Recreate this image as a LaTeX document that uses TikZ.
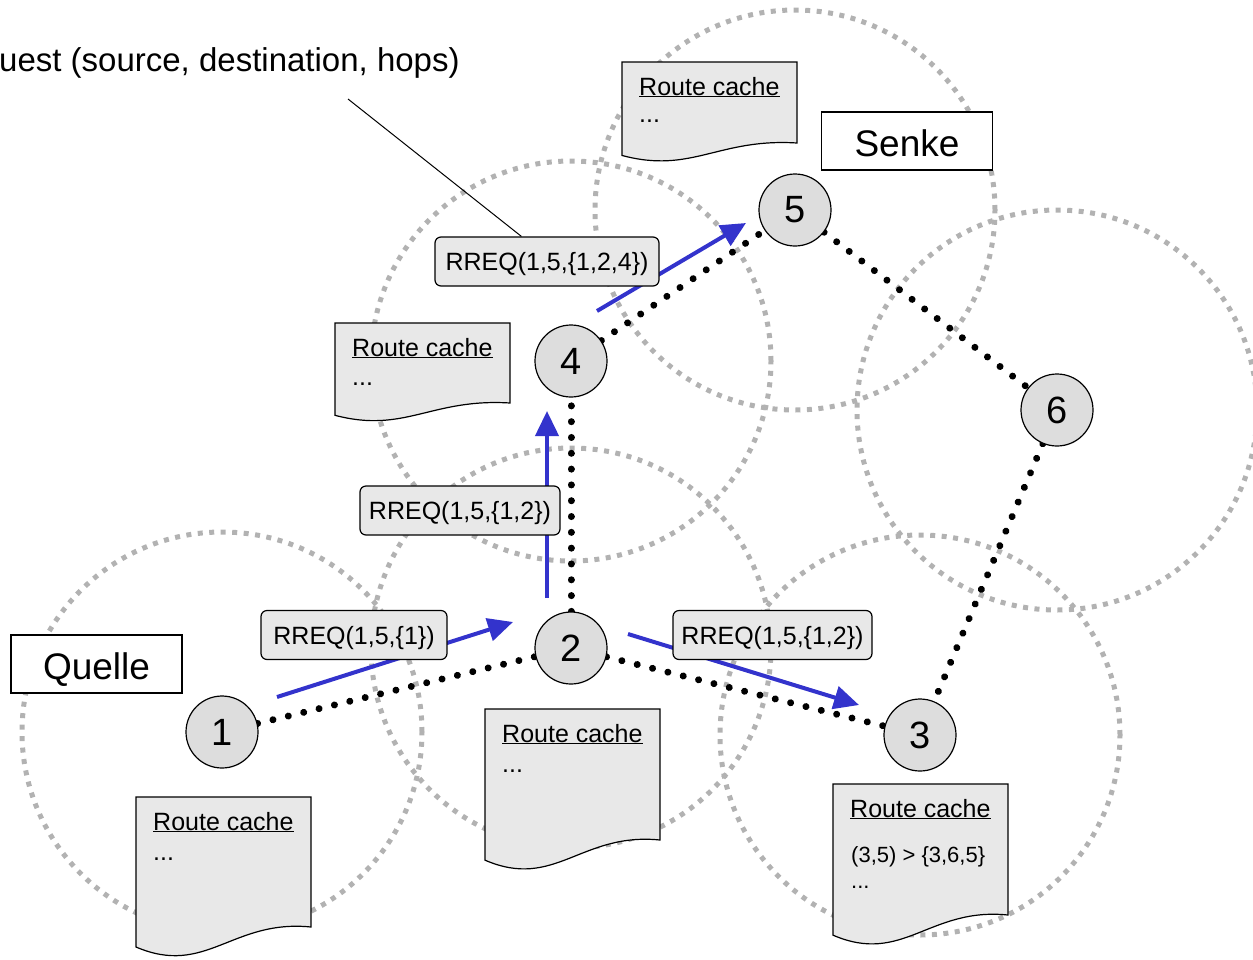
\documentclass[tikz,border=0pt]{standalone}
\usepackage{fontspec}
\setmainfont{Liberation Sans}
\usetikzlibrary{arrows.meta,backgrounds}

\definecolor{rangegray}{RGB}{178,178,178}
\definecolor{nodegray}{RGB}{221,221,221}
\definecolor{boxgray}{RGB}{232,232,232}
\definecolor{msgblue}{RGB}{51,51,204}

\newcommand{\setfs}[1]{\fontsize{#1}{#1}\selectfont}

% route cache sheet: name, left x, top y, height of the right edge
\newcommand{\routedoc}[4]{%
  \path[draw, fill=boxgray, line width=1.2pt]
    (#2,#3) -- ({#2+175},#3) -- ({#2+175},{#3+#4})
    .. controls ({#2+96},{#3+#4-8*#4/130}) and ({#2+70},{#3+#4+50*#4/130})
    .. (#2,{#3+#4+20*#4/130}) -- cycle;
  \node[anchor=base west, inner sep=0pt, font=\setfs{25}] (#1) at ({#2+17},{#3+33}) {\underline{Route cache}};
}

\begin{document}
\begin{tikzpicture}[x=1pt, y=-1pt,
  radiorange/.style={draw=rangegray, line width=5pt, dash pattern=on 5pt off 6.5pt},
  host/.style={circle, draw, fill=nodegray, line width=1.2pt, minimum size=72pt,
    inner sep=0pt, font=\setfs{38}},
  link/.style={line width=7pt, line cap=round, dash pattern=on 0.01pt off 15.8pt},
  rreq/.style={draw, fill=boxgray, rounded corners=6pt, line width=1.2pt,
    minimum height=49pt, inner sep=0pt, text height=18pt, text depth=0pt, font=\setfs{25}},
  rolebox/.style={draw, fill=white, line width=1.3pt, minimum width=171pt,
    minimum height=58pt, inner sep=0pt, text height=30pt, text depth=0pt, font=\setfs{37}},
  msg/.style={draw=msgblue, line width=4pt, -{Triangle[length=25pt,width=23pt]}, fill=msgblue},
  cachetext/.style={anchor=base west, inner sep=0pt},
]
\useasboundingbox (0,0) rectangle (1253,959);

% hosts
\node[host] (n1) at (222,732) {1};
\node[host] (n2) at (571,648) {2};
\node[host] (n3) at (920,735) {3};
\node[host] (n4) at (571,361) {4};
\node[host] (n5) at (795,210) {5};
\node[host] (n6) at (1057,410) {6};

% radio ranges, links and request arrows
\begin{pgfonlayer}{background}
  \foreach \n in {n1,n2,n3,n4,n5,n6}
    \draw[radiorange] (\n.center) circle[radius=200pt];
  \draw[link] (n1) -- (n2);
  \draw[link] (n2) -- (n3);
  \draw[link] (n2) -- (n4);
  \draw[link] (n4) -- (n5);
  \draw[link] (n5) -- (n6);
  \draw[link] (n6) -- (n3);

  \coordinate (a1s) at (277,697); \coordinate (a1e) at (513,622);
  \coordinate (a2s) at (547,598); \coordinate (a2e) at (547,411);
  \coordinate (a3s) at (628,634); \coordinate (a3e) at (859,705);
  \coordinate (a4s) at (597,311); \coordinate (a4e) at (746,223);
  \draw[msg] (a1s) -- (a1e);
  \draw[msg] (a2s) -- (a2e);
  \draw[msg] (a3s) -- (a3e);
  \draw[msg] (a4s) -- (a4e);
\end{pgfonlayer}

% request messages
\node[rreq, minimum width=186pt] (r1) at (354,635) {RREQ(1,5,\{1\})};
\node[rreq, minimum width=200pt] (r2) at (460,510.5) {RREQ(1,5,\{1,2\})};
\node[rreq, minimum width=199pt] (r3) at (772.5,635) {RREQ(1,5,\{1,2\})};
\node[rreq, minimum width=224pt] (r4) at (547,261.5) {RREQ(1,5,\{1,2,4\})};

% caption with pointer
\node[anchor=base west, inner sep=0pt, font=\setfs{33}] (caption) at (-1,71) {uest (source, destination, hops)};
\coordinate (callout) at (348,99);
\begin{pgfonlayer}{background}
  \draw[line width=1pt] (callout) -- ([xshift=87pt]r4.north west);
\end{pgfonlayer}

% roles
\node[rolebox] (quelle) at (96.5,664) {Quelle};
\node[rolebox] (senke) at (907,141) {Senke};

% route caches
\routedoc{cTop}{622}{62}{81}
\node[cachetext, font=\setfs{25}] (cTopx) at (639,122) {...};
\routedoc{cLeft}{335}{323}{80}
\node[cachetext, font=\setfs{25}] (cLeftx) at (352,385) {...};
\routedoc{cMid}{485}{709}{131}
\node[cachetext, font=\setfs{25}] (cMidx) at (502,772) {...};
\routedoc{cBL}{136}{797}{130}
\node[cachetext, font=\setfs{25}] (cBLx) at (153,860) {...};
\routedoc{cBR}{833}{784}{131}
\node[cachetext, font=\setfs{22}] (cBRr) at (851,862) {(3,5) > \{3,6,5\}};
\node[cachetext, font=\setfs{22}] (cBRx) at (851,888) {...};
\end{tikzpicture}
\end{document}
